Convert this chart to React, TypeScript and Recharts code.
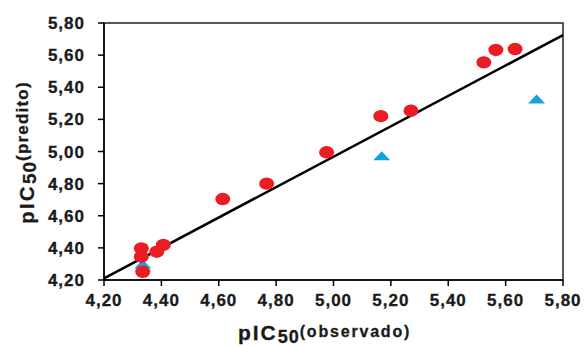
import { ScatterChart, Scatter, XAxis, YAxis, ReferenceLine, ReferenceArea, Label } from "recharts";

// conjunto de treinamento (círculos vermelhos)
const trainObs = [4.33, 4.33, 4.335, 4.384, 4.407, 4.614, 4.767, 4.976, 5.165, 5.27, 5.524, 5.566, 5.633];
const trainPred = [4.397, 4.345, 4.251, 4.376, 4.418, 4.704, 4.8, 4.995, 5.22, 5.254, 5.555, 5.632, 5.638];

// conjunto de teste (triângulos azuis)
const testObs = [4.335, 5.168, 5.708];
const testPred = [4.3, 4.974, 5.327];

// reta de regressão
const fitX = [4.2, 5.8];
const fitY = [4.21, 5.725];

const ticks = [4.2, 4.4, 4.6, 4.8, 5.0, 5.2, 5.4, 5.6, 5.8];

const train = trainObs.map((x, i) => ({ x, y: trainPred[i] }));
const test = testObs.map((x, i) => ({ x, y: testPred[i] }));

const fmt = (v: number) => v.toFixed(2).replace(".", ",");
const font = "'Liberation Sans', Arial, sans-serif";
const tickStyle = {
  fontSize: 17,
  fontWeight: "bold",
  fill: "#1a1a1a",
  stroke: "#1a1a1a",
  strokeWidth: 0.3,
  fontFamily: font,
  letterSpacing: 1,
};

const Dot = (p: any) => <ellipse cx={p.cx} cy={p.cy} rx={7.5} ry={6.2} fill="#ec1c24" />;
const Tri = (p: any) => (
  <polygon
    points={`${p.cx - 8.5},${p.cy + 4.5} ${p.cx + 8.5},${p.cy + 4.5} ${p.cx},${p.cy - 4.5}`}
    fill="#14a2e2"
  />
);

const XLabel = (props: any) => {
  const vb = props.viewBox;
  const cx = vb.x + vb.width / 2 - 9;
  return (
    <text
      x={cx}
      y={340}
      textAnchor="middle"
      fontFamily={font}
      fontWeight="bold"
      fill="#1a1a1a"
      stroke="#1a1a1a"
      strokeWidth={0.3}
    >
      <tspan fontSize={21} letterSpacing={2}>pIC</tspan>
      <tspan fontSize={18} dy={3} letterSpacing={1}>50</tspan>
      <tspan fontSize={16} dy={-6.5} letterSpacing={1.8}>(observado)</tspan>
    </text>
  );
};

const YLabel = (props: any) => {
  const vb = props.viewBox;
  const cx = 33.5;
  const cy = vb.y + vb.height / 2 + 1;
  return (
    <text
      x={cx}
      y={cy}
      transform={`rotate(-90, ${cx}, ${cy})`}
      textAnchor="middle"
      fontFamily={font}
      fontWeight="bold"
      fill="#1a1a1a"
      stroke="#1a1a1a"
      strokeWidth={0.3}
    >
      <tspan fontSize={20} letterSpacing={2.5}>pIC</tspan>
      <tspan fontSize={19} dy={2} letterSpacing={1}>50</tspan>
      <tspan fontSize={17} dy={-8} letterSpacing={1.2}>(predito)</tspan>
    </text>
  );
};

export default function App() {
  return (
    <div>
      <style>{"body{margin:0}"}</style>
      <ScatterChart width={588} height={347} margin={{ top: 23, right: 25, bottom: 0, left: 0 }}>
        <XAxis
          type="number"
          dataKey="x"
          domain={[4.2, 5.8]}
          ticks={ticks}
          tickFormatter={fmt}
          allowDataOverflow
          height={67}
          tickSize={6}
          tickMargin={8}
          tick={tickStyle}
          axisLine={{ stroke: "#000", strokeWidth: 1.5 }}
          tickLine={{ stroke: "#000", strokeWidth: 1.5 }}
        >
          <Label content={XLabel} />
        </XAxis>
        <YAxis
          type="number"
          dataKey="y"
          domain={[4.2, 5.8]}
          ticks={ticks}
          tickFormatter={fmt}
          allowDataOverflow
          width={104}
          tickSize={6}
          tickMargin={13}
          tick={tickStyle}
          axisLine={{ stroke: "#000", strokeWidth: 1.5 }}
          tickLine={{ stroke: "#000", strokeWidth: 1.5 }}
        >
          <Label content={YLabel} />
        </YAxis>
        <ReferenceArea x1={4.2} x2={5.8} y1={4.2} y2={5.8} fill="none" fillOpacity={0} stroke="#222" strokeWidth={1.5} />
        <Scatter data={test} shape={Tri} isAnimationActive={false} />
        <Scatter data={train} shape={Dot} isAnimationActive={false} />
        <ReferenceLine
          segment={[
            { x: fitX[0], y: fitY[0] },
            { x: fitX[1], y: fitY[1] },
          ]}
          stroke="#000"
          strokeWidth={2.6}
        />
      </ScatterChart>
    </div>
  );
}
